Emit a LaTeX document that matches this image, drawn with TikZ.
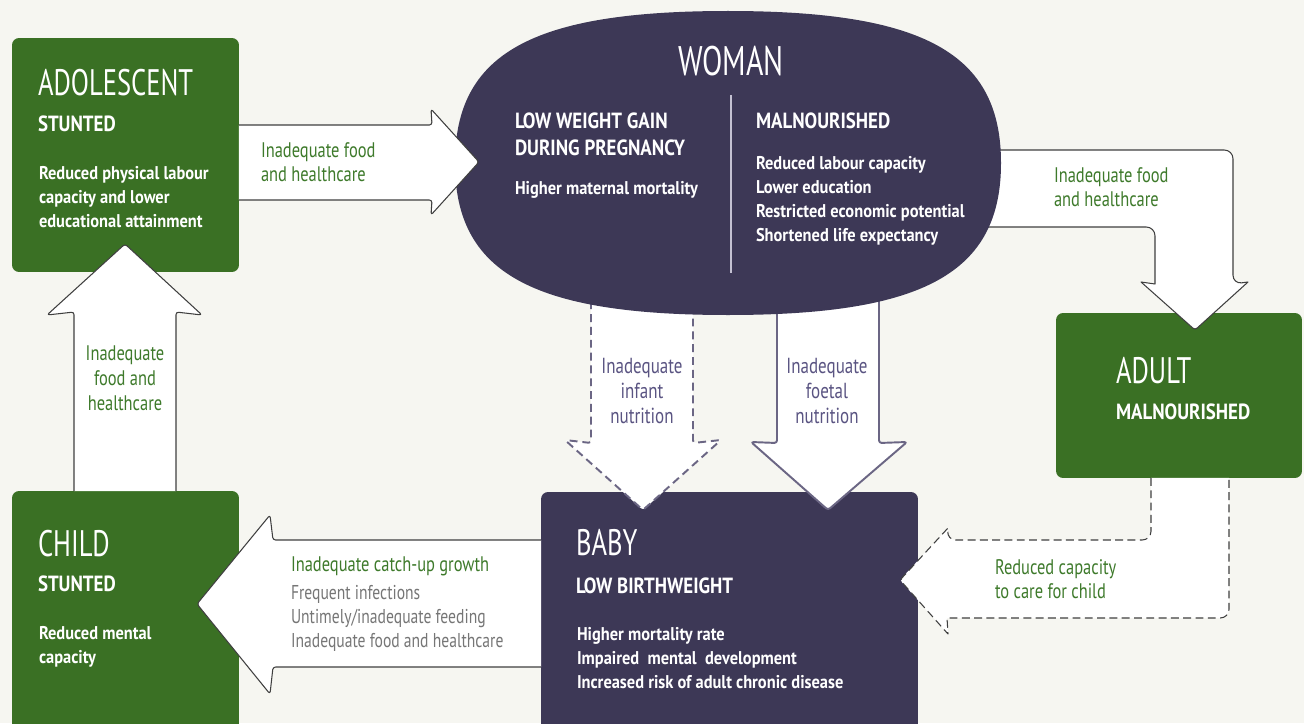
\documentclass[tikz,border=0pt]{standalone}
\usepackage{fontspec}
\setmainfont{PT Sans}[FakeStretch=0.78]
\newfontfamily\ttlfam{PT Sans}[FakeStretch=0.72]
\newfontfamily\subfam{PT Sans}[FakeStretch=0.86]
\newfontfamily\bodyfam{PT Sans}[FakeStretch=0.89]
\definecolor{bgc}{HTML}{F6F6F1}
\definecolor{grn}{HTML}{3A7024}
\definecolor{prp}{HTML}{3D3856}
\definecolor{grntxt}{HTML}{3E7A2B}
\definecolor{prptxt}{HTML}{5A5482}
\definecolor{prpline}{HTML}{6B6684}
\definecolor{graytxt}{HTML}{767676}
\definecolor{grayline}{HTML}{3F3F3F}
\definecolor{divc}{HTML}{C4C1D2}
\begin{document}
\begin{tikzpicture}[x=0.02cm,y=-0.02cm,
  boxg/.style={fill=grn, rounded corners=4pt, inner sep=0pt, outer sep=0pt},
  boxp/.style={fill=prp, rounded corners=4pt, inner sep=0pt, outer sep=0pt},
  arrw/.style={fill=white, draw=grayline, line width=0.6pt, line join=round},
  arrwd/.style={arrw, dash pattern=on 4.5pt off 2.5pt},
  parr/.style={fill=white, draw=prpline, line width=1.1pt, line join=round},
  parrd/.style={parr, dash pattern=on 4.5pt off 2.8pt},
  tx/.style={anchor=base west, inner sep=0pt, outer sep=0pt},
  ttl/.style={tx, text=white, font=\ttlfam\fontsize{21}{25}\selectfont},
  subt/.style={tx, text=white, font=\subfam\bfseries\fontsize{12.5}{15}\selectfont},
  bodyt/.style={tx, text=white, font=\bodyfam\bfseries\fontsize{10.5}{13}\selectfont},
  labg/.style={tx, text=grntxt, font=\fontsize{12}{14}\selectfont},
  labgc/.style={labg, anchor=base},
  labpc/.style={tx, anchor=base, text=prptxt, font=\fontsize{12.4}{14}\selectfont},
  labgr/.style={tx, text=graytxt, font=\fontsize{11.4}{13}\selectfont}
]
\useasboundingbox (0,0) rectangle (1304,723);
\fill[bgc] (0,0) rectangle (1304,723);

% boxes
\node[boxg, minimum width=4.54cm, minimum height=4.68cm] (adol) at (125.5,155) {};
\node[boxg, minimum width=4.54cm, minimum height=4.88cm] (child) at (125.5,613) {};
\node[boxp, minimum width=7.54cm, minimum height=4.86cm] (baby) at (729.5,613.5) {};
\node[boxg, minimum width=4.92cm, minimum height=3.3cm] (adult) at (1179,395.5) {};

% arrows leaving the woman (drawn under her)
\filldraw[arrw] (960,150) [rounded corners=5pt] -- (1233,150) -- (1233,284) [sharp corners] -- (1248,282) [rounded corners=1.5pt] -- (1195,330) [sharp corners] -- (1141,282) -- (1155,284) [rounded corners=5pt] -- (1155,227) -- (960,227) [sharp corners] -- cycle;
\filldraw[parrd, rounded corners=1.5pt] (591,250) -- (591,443) -- (565,440) -- (643,510) -- (721,440) -- (693,443) -- (693,250);
\filldraw[parr, rounded corners=1.5pt] (777,250) -- (777,443) -- (751,442) -- (828,510) -- (907,442) -- (879,443) -- (879,250);

% woman
\fill[prp] (455,163) .. controls (455,53.6) and (531.4,11) .. (728,11) .. controls (924.6,11) and (1001,53.6) .. (1001,163) .. controls (1001,272.4) and (924.6,315) .. (728,315) .. controls (531.4,315) and (455,272.4) .. (455,163) -- cycle;
\coordinate (woman) at (728,163);
\draw[divc, line width=0.7pt] (731,95) -- (731,273);

% other arrows
\filldraw[arrw, rounded corners=1.5pt] (adol.east |- 0,125) -- (432,125) -- (431,109) -- (479,162) -- (431,215) -- (432,200) -- (adol.east |- 0,200);
\filldraw[arrw, rounded corners=1.5pt] (child.north -| 74,0) -- (74,312) -- (47,315) -- (125,244) -- (202,315) -- (176,312) -- (child.north -| 176,0);
\filldraw[arrw, rounded corners=1.5pt] (baby.west |- 0,540) -- (273,540) -- (270,515) -- (197,604) -- (270,694) -- (273,667) -- (baby.west |- 0,667);
\filldraw[arrwd] (adult.south -| 1151,0) [rounded corners=5pt] -- (1151,540) -- (947,540) [sharp corners] -- (948,528) [rounded corners=1.5pt] -- (900,580) [sharp corners] -- (948,634) -- (947,618) [rounded corners=5pt] -- (1229,618) -- (adult.south -| 1229,0);

% adolescent
\node[ttl] (adolT) at (38,95) {ADOLESCENT};
\node[subt] (adolS) at (38,132) {STUNTED};
\node[bodyt] (adolB1) at (39,179) {Reduced physical labour};
\node[bodyt] (adolB2) at (39,203) {capacity and lower};
\node[bodyt] (adolB3) at (39,227) {educational attainment};
\node[labg] (l1a) at (261,157) {Inadequate food};
\node[labg] (l1b) at (261,181) {and healthcare};

% woman text
\node[ttl, anchor=base, font=\ttlfam\fontsize{23.5}{27}\selectfont] (womT) at (731,76) {WOMAN};
\node[subt] (womS1) at (515,129) {LOW WEIGHT GAIN};
\node[subt] (womS2) at (515,155) {DURING PREGNANCY};
\node[bodyt] (womB1) at (515,194) {Higher maternal mortality};
\node[subt] (womS3) at (756,129) {MALNOURISHED};
\node[bodyt] (womB2) at (756,169) {Reduced labour capacity};
\node[bodyt] (womB3) at (756,193) {Lower education};
\node[bodyt] (womB4) at (756,217) {Restricted economic potential};
\node[bodyt] (womB5) at (756,241) {Shortened life expectancy};

% woman -> adult label
\node[labg] (l2a) at (1054,182) {Inadequate food};
\node[labg] (l2b) at (1054,206) {and healthcare};

% adult
\node[ttl] (adT) at (1116,383) {ADULT};
\node[subt] (adS) at (1116,419) {MALNOURISHED};

% down arrow labels
\node[labpc] (l3a) at (642,373) {Inadequate};
\node[labpc] (l3b) at (642,398) {infant};
\node[labpc] (l3c) at (642,423) {nutrition};
\node[labpc] (l4a) at (827,373) {Inadequate};
\node[labpc] (l4b) at (827,398) {foetal};
\node[labpc] (l4c) at (827,423) {nutrition};

% adult -> baby label
\node[labg] (l5a) at (995,574) {Reduced capacity};
\node[labg] (l5b) at (995,598) {to care for child};

% baby
\node[ttl] (babT) at (576,555) {BABY};
\node[subt] (babS) at (576,593) {LOW BIRTHWEIGHT};
\node[bodyt] (babB1) at (577,640) {Higher mortality rate};
\node[bodyt] (babB2) at (577,664) {Impaired\ \ mental\ \ development};
\node[bodyt] (babB3) at (577,688) {Increased risk of adult chronic disease};

% baby -> child labels
\node[labg] (l6a) at (291,571) {Inadequate catch-up growth};
\node[labgr] (l6b) at (291,599) {Frequent infections};
\node[labgr] (l6c) at (291,623) {Untimely/inadequate feeding};
\node[labgr] (l6d) at (291,647) {Inadequate food and healthcare};

% child
\node[ttl] (chT) at (38,556) {CHILD};
\node[subt] (chS) at (38,591) {STUNTED};
\node[bodyt] (chB1) at (39,639) {Reduced mental};
\node[bodyt] (chB2) at (39,663) {capacity};

% child -> adolescent labels
\node[labgc] (l7a) at (125,360) {Inadequate};
\node[labgc] (l7b) at (125,385) {food and};
\node[labgc] (l7c) at (125,410) {healthcare};
\end{tikzpicture}
\end{document}
